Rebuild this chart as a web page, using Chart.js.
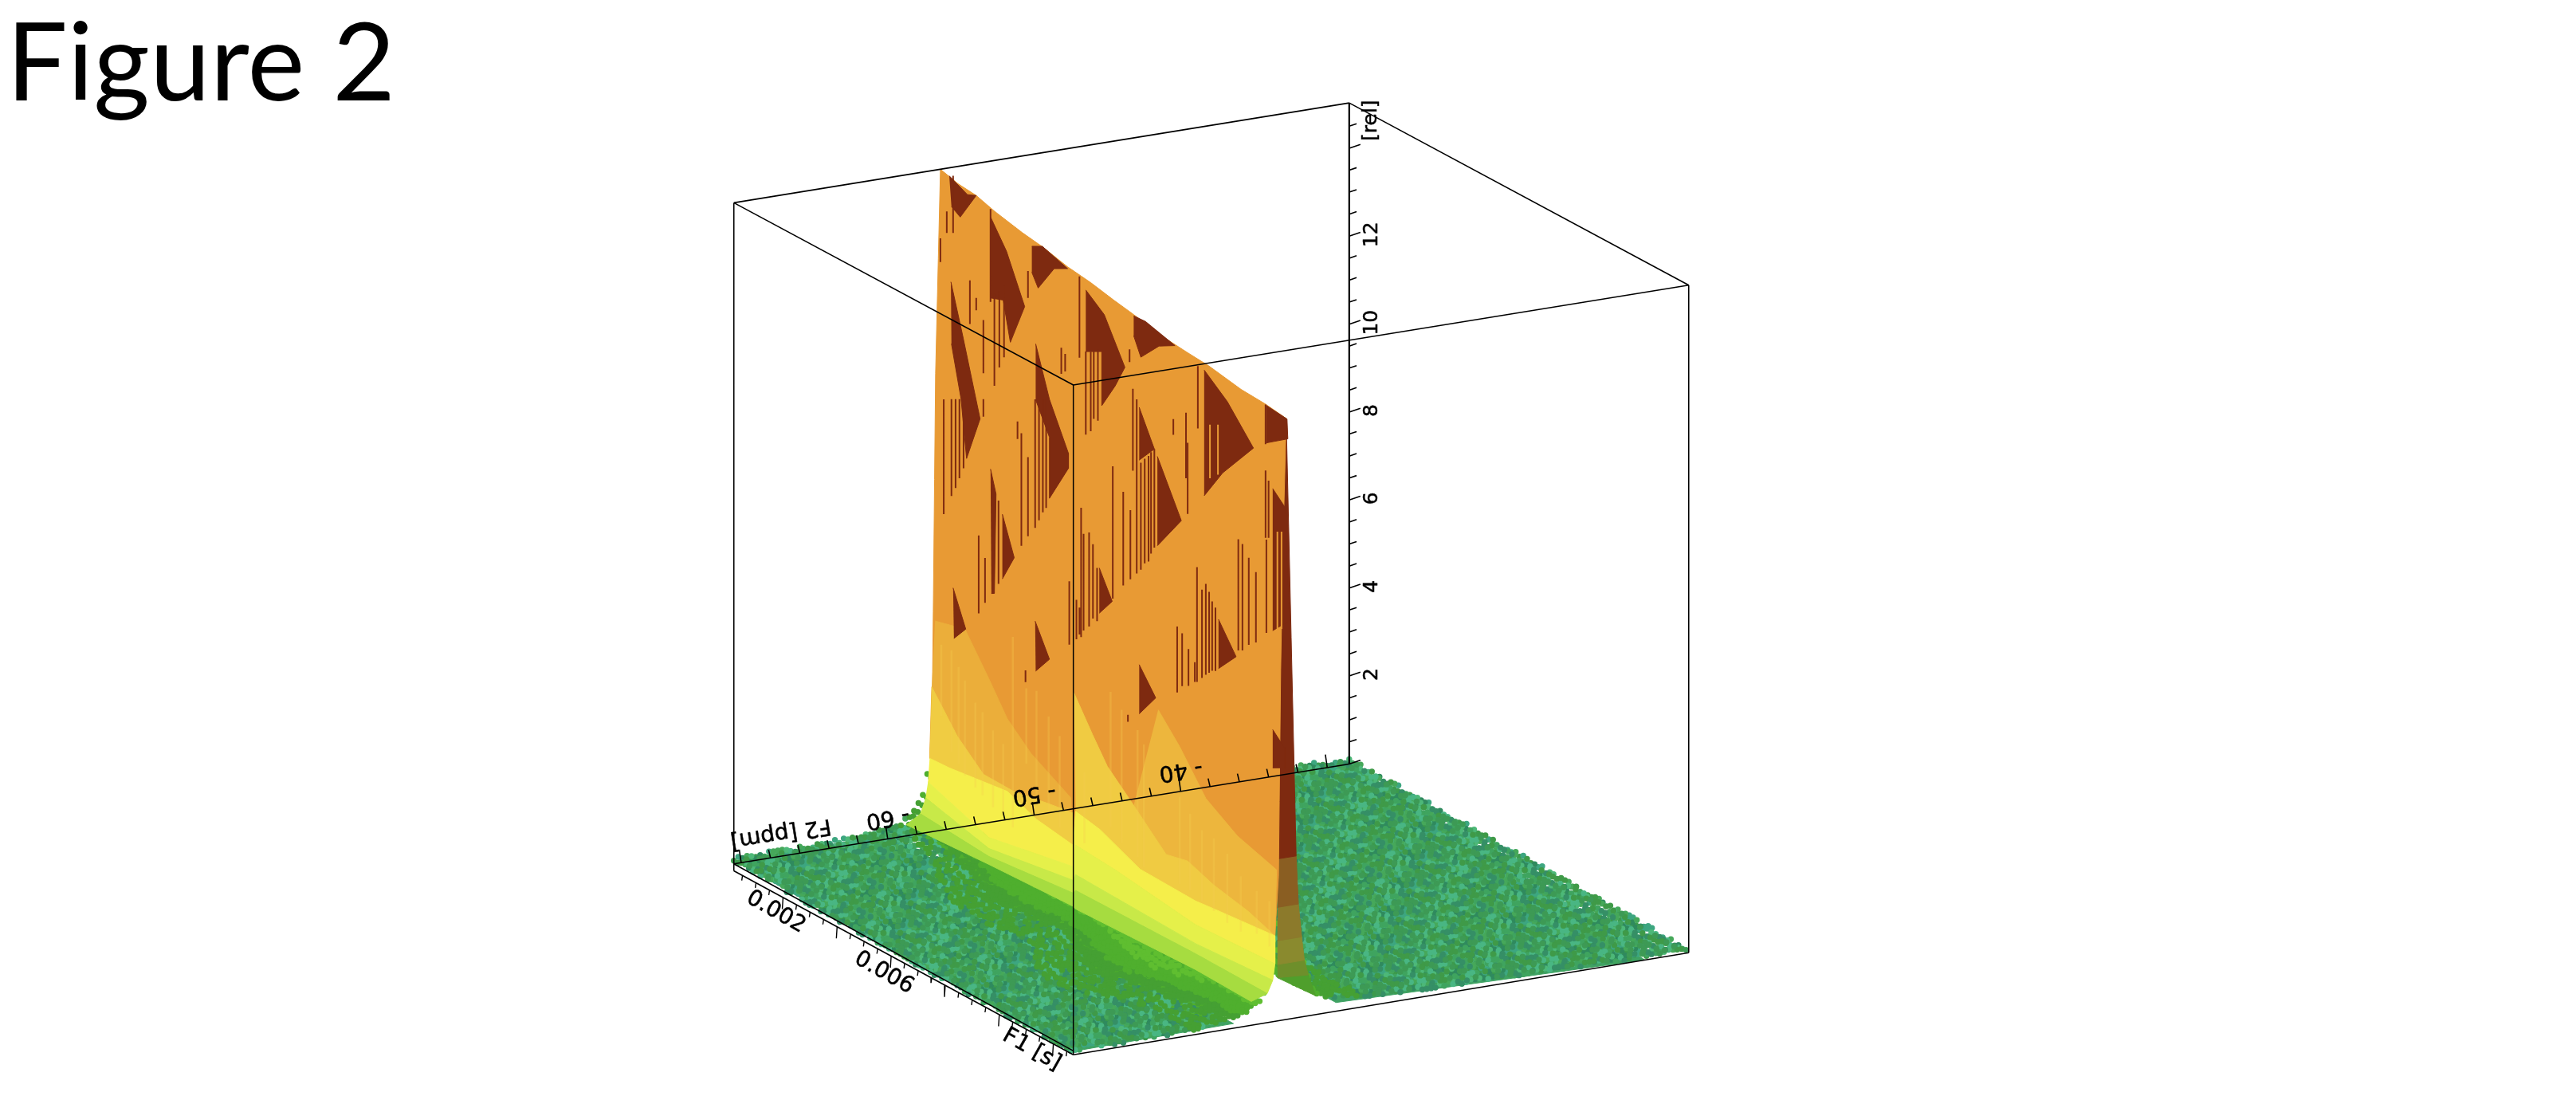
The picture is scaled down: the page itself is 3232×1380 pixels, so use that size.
<!DOCTYPE html>
<html lang="en">
<head>
<meta charset="utf-8" />
<title>Figure 2</title>
<script src="https://cdn.jsdelivr.net/npm/chart.js"></script>
<style>
    html, body { margin: 0; padding: 0; background: #fff; }
    #title { position: absolute; left: 8px; top: -14px; font: 136px Lato, sans-serif; color: #000; line-height: 1.3; }
    canvas { display: block; }
</style>
</head>
<body>
<canvas id="surfaceChart" width="3232" height="1380"></canvas>
<div id="title">Figure 2</div>
<script>
// axis ranges: F1 in ms, F2 in ppm, intensity in rel
const f1Range = [0.18, 12.74];
const f2Range = [70.5, 28.5];
const zTopBack = 15.03;
const zTopFront = 15.23;

const zLabels = [2, 4, 6, 8, 10, 12];
const f2Labels = [60, 50, 40];
const f1Labels = [2, 6];
const f2Major = [70, 60, 50, 40, 30];

// ridge of the peak, read along its top edge
const ridgeF1 = [0.18, 0.82, 1.48, 2.15, 3.16, 3.90, 4.80, 5.64, 6.47, 7.20, 8.29, 9.10, 9.94, 11.1, 12.0, 12.77];
const ridgeTop = [15.03, 14.92, 14.88, 14.75, 14.61, 14.54, 14.40, 14.33, 14.22, 14.14, 14.0, 13.95, 13.91, 13.78, 13.75, 13.68];
const ridgePeakF2 = [56.4, 55.97];

// peak line shape, fraction of ridge height vs ppm away from the peak
const leftRel = [0.001, 0.003, 0.013, 0.031, 0.057, 0.113, 0.213, 0.693, 1];
const leftOff = [14, 6.25, 2.72, 1.68, 1.03, 0.76, 0.54, 0.33, 0];
const rightRel = [0.001, 0.0066, 0.0095, 0.015, 0.028, 0.086, 0.15, 0.21, 0.37, 0.64, 1];
const rightOff = [27, 17.4, 9.5, 4.6, 2.07, 1.28, 0.98, 0.76, 0.54, 0.27, 0];

// where the floor turns green left of the peak
const greenF1 = [0.18, 1.8, 4.5, 6.8, 8.85, 10.0, 11.5];
const greenEdge = [1.7, 2.5, 4.5, 4.0, 6.0, 5.0, 3.9];

// contour lines on the face of the peak, [F1, rel]
const contourE = [[-0.22, 1.50], [0.50, 1.53], [2.61, 1.72], [3.67, 1.45], [5.0, 1.32], [5.09, 2.12], [5.98, 2.01], [7.43, 1.61], [9.45, 1.58], [10.11, 1.63], [12.33, 1.78]];
const contourF = [[-0.28, 0.94], [1.94, 0.44], [5.0, 0.83], [5.09, 1.35], [6.56, 1.28], [9.45, 1.04], [12.33, 1.14]];
const contourG = [[-0.37, 0.55], [1.94, 0.19], [5.0, 0.52], [5.09, 0.68], [9.45, 0.61], [12.25, 0.74]];
const contourH = [[-0.57, 0.12], [1.94, 0.01], [5.0, 0.23], [5.09, 0.32], [9.45, 0.38], [12.05, 0.37]];
const contourI = [[-1.09, -0.31], [1.94, -0.17], [5.0, -0.07], [5.09, -0.10], [9.45, 0.02], [11.47, -0.01]];
const contourFoot = [[11.0, -0.5], [9.0, -1.2], [5.0, -1.2], [1.5, -0.8]];
const contourA = [[-0.02, 4.69], [1.07, 4.88], [1.94, 4.05], [2.61, 3.37], [3.47, 2.88], [4.91, 2.37], [5.0, 1.32], [3.67, 1.45], [2.61, 1.72], [0.50, 1.53], [-0.22, 1.50], [-0.14, 3.15]];
const contourB = [[5.03, 4.79], [5.70, 4.08], [6.24, 3.54], [7.20, 2.98], [8.38, 2.27], [9.16, 2.39], [10.11, 2.17], [11.38, 2.0], [12.33, 1.78], [10.11, 1.63], [9.45, 1.58], [7.43, 1.61], [5.98, 2.01], [5.09, 2.12]];
const contourC = [[8.09, 5.46], [8.87, 4.89], [9.82, 4.04], [10.97, 3.58], [12.39, 3.30], [12.33, 1.78], [11.38, 2.0], [10.11, 2.17], [9.16, 2.39], [8.38, 2.27], [7.20, 2.98]];
const contourD = [[-0.14, 3.15], [0.79, 2.35], [1.74, 1.81], [2.90, 1.80], [4.05, 1.95], [5.0, 2.05], [5.0, 1.32], [3.67, 1.45], [2.61, 1.72], [0.50, 1.53], [-0.22, 1.50]];

// dark patches on the face of the peak, [F1, rel]
const darkPatches = [
    [[0.50, 14.99], [1.16, 14.79], [1.48, 14.88], [0.90, 14.19], [0.58, 14.32]],
    [[2.0, 14.57], [2.58, 13.99], [3.24, 12.96], [2.72, 11.97], [2.46, 12.84], [2.0, 12.73]],
    [[3.50, 14.42], [3.88, 14.55], [4.80, 14.36], [4.31, 14.19], [3.73, 13.55], [3.50, 13.83]],
    [[5.46, 14.10], [6.13, 13.77], [6.88, 12.83], [6.53, 12.29], [6.04, 11.67], [6.04, 12.90], [5.46, 12.70]],
    [[7.20, 14.11], [7.63, 14.13], [8.70, 13.95], [8.12, 13.74], [7.46, 13.26], [7.20, 13.66]],
    [[9.76, 13.76], [10.6, 13.33], [11.55, 12.60], [10.43, 11.65], [9.76, 10.90]],
    [[12.02, 13.73], [12.77, 13.68], [12.8, 13.24], [12.02, 12.88]],
    [[0.56, 12.60], [0.99, 11.52], [1.62, 9.85], [1.13, 8.78], [0.93, 10.06], [0.58, 11.20]],
    [[3.64, 12.25], [4.14, 11.16], [4.83, 10.17], [4.83, 9.83], [4.14, 8.91], [4.14, 10.3], [3.64, 10.98]],
    [[7.40, 12.10], [7.95, 11.34], [7.40, 10.9]],
    [[8.06, 11.21], [8.93, 10.05], [8.06, 9.18]],
    [[2.0, 8.84], [2.2, 8.34], [2.14, 6.06], [2.03, 6.02]],
    [[2.43, 7.96], [2.86, 7.12], [2.43, 6.49]],
    [[5.95, 7.95], [6.42, 7.35], [5.95, 6.92]],
    [[12.25, 11.92], [12.71, 11.64], [12.85, 9.12], [12.25, 8.69]],
    [[10.28, 8.27], [10.92, 7.64], [10.28, 7.15]],
    [[0.64, 5.67], [1.10, 4.89], [0.67, 4.53]],
    [[3.62, 5.94], [4.14, 5.25], [3.64, 4.81]],
    [[7.40, 6.25], [8.0, 5.70], [7.40, 5.13]],
    [[12.25, 6.44], [12.68, 6.17], [12.68, 5.72], [12.25, 5.57]]
];

// thin vertical streaks, [F1, rel top, rel bottom]
const darkStreaks = [
    [0.30, 9.84, 7.23], [0.58, 9.94, 7.74], [0.73, 9.99, 7.97], [0.87, 10.04, 8.24], [1.02, 10.09, 8.52], [1.74, 10.34, 9.94],
    [2.98, 10.26, 9.86], [3.12, 10.04, 7.48], [3.36, 9.58, 7.78], [3.62, 10.98, 8.06], [3.76, 10.91, 8.28], [3.90, 11.08, 8.51], [4.02, 11.12, 8.65],
    [1.57, 7.18, 5.41], [1.80, 6.75, 5.73], [2.29, 8.22, 6.33], [4.86, 7.27, 5.83], [5.12, 6.94, 6.04], [5.23, 6.80, 6.19], [5.29, 9.09, 6.15], [5.38, 8.53, 6.33], [5.58, 8.63, 6.49], [5.72, 8.41, 6.72], [5.87, 7.92, 6.71],
    [5.46, 12.70, 10.81], [5.75, 12.80, 11.27], [6.44, 10.43, 7.42], [6.82, 9.98, 7.85], [7.08, 9.65, 8.08], [7.31, 12.25, 8.29], [7.17, 12.44, 10.58], [7.46, 10.86, 8.43], [7.60, 11.0, 8.62], [7.74, 11.11, 8.71], [7.83, 11.23, 8.92], [7.95, 11.34, 9.1],
    [8.64, 12.26, 11.90], [9.16, 11.90, 10.28], [9.53, 13.77, 12.35], [9.10, 12.56, 11.07],
    [11.0, 10.34, 7.81], [11.15, 10.28, 7.86], [11.38, 10.05, 8.07], [11.64, 9.81, 8.21], [8.78, 7.59, 6.09], [8.96, 7.50, 6.30], [9.19, 7.22, 6.38], [9.42, 7.0, 6.55],
    [9.50, 9.19, 6.58], [9.68, 8.74, 6.73], [9.82, 8.92, 6.85], [9.94, 8.78, 6.94], [10.05, 8.60, 7.02], [10.17, 8.50, 7.06],
    [11.99, 13.74, 12.84], [11.99, 12.24, 10.71], [12.02, 10.68, 8.56], [12.10, 12.05, 10.75],
    [0.18, 13.46, 12.92], [0.41, 14.15, 13.66], [0.64, 15.04, 13.74], [1.25, 12.87, 11.88], [1.48, 12.55, 12.27], [1.74, 12.14, 10.93], [2.0, 14.75, 12.64],
    [2.14, 12.87, 10.78], [2.32, 13.0, 11.26], [2.49, 13.17, 11.55], [3.36, 13.81, 13.20], [4.57, 12.48, 11.89], [4.71, 12.39, 11.99], [5.23, 14.33, 12.48],
    [5.64, 12.76, 10.95], [5.90, 12.90, 11.28], [7.05, 13.30, 13.01], [3.27, 4.70, 4.43], [6.99, 4.97, 4.81]
];
const orangeStreaks = [[9.97, 12.59, 11.37], [10.26, 12.69, 11.55], [12.42, 11.0, 8.79], [12.57, 11.05, 8.84]];
const paleStreaks = [
    [0.21, 4.23, 2.61], [0.58, 4.23, 1.92], [0.84, 3.94, 1.74], [1.07, 3.71, 1.55], [1.45, 3.34, 1.41], [1.71, 3.21, 1.32], [2.09, 2.93, 1.18], [2.46, 2.75, 1.12],
    [2.81, 5.3, 0.97], [3.30, 4.30, 2.59], [3.67, 4.37, 1.81], [4.11, 3.94, 1.78], [4.51, 3.63, 1.56], [5.41, 3.12, 1.50], [6.36, 5.27, 2.21], [6.76, 5.0, 1.98],
    [7.34, 4.74, 1.86], [7.57, 4.49, 1.71], [8.87, 3.75, 1.77], [9.25, 3.50, 1.75], [9.68, 3.27, 1.65], [10.11, 3.23, 1.58], [10.6, 3.05, 1.48], [11.09, 2.71, 1.45], [11.67, 2.57, 1.60], [12.13, 2.50, 1.47]
];

// shaded far side of the peak, seen at the end of the F1 range
const flankLevels = [0.45, 0.95, 1.3, 1.84, 2.6, 3.7];
const flankColors = ['#4F9F2C', '#6E8F2B', '#8A8A2E', '#8C7A2B', '#8A5E22', '#7E2A10'];

// hand read mottling of the noise floor
const floorNoise = [
    '31840725963158402796314',
    '72590314862079514380627',
    '04683951720486239175048',
    '95172046381927504638219',
    '28406173950364817290563',
    '63914850272915036484170',
    '17052893640782916053428',
    '80365127498130674925316',
    '49271806353698210547892',
    '36508942170245983716054',
    '91743068529607134829261',
    '05829617348172560394785',
    '74136290585936417028143'
];
const tealTones = ['#358F66', '#3FA45F', '#49B683', '#3C9A4C', '#3D9A55', '#2F8A5E', '#4DB878', '#3F9A48', '#46A85A', '#3DA680'];
const greenTones = ['#7ACB38', '#5FBE30', '#4FAF2E', '#45A033'];

const C_ORANGE = '#E89A34';
const C_DARK = '#7E2A10';

function interp(xs, ys, v) {
    if (v <= xs[0]) return ys[0];
    for (let i = 1; i < xs.length; i++) {
        if (v <= xs[i]) return ys[i - 1] + (ys[i] - ys[i - 1]) * (v - xs[i - 1]) / (xs[i] - xs[i - 1]);
    }
    return ys[ys.length - 1];
}

// fixed view of the box, pixels per full axis
function project(f1, f2, z) {
    const a = (f1 - f1Range[0]) / (f1Range[1] - f1Range[0]);
    const b = (f2Range[0] - f2) / (f2Range[0] - f2Range[1]);
    return { x: 919 + 427 * a + 774 * b, y: 1086 + 241 * a - 126 * b - 55.5 * z };
}
const peakF2 = f1 => interp([ridgeF1[0], ridgeF1[ridgeF1.length - 1]], ridgePeakF2, f1);
const ridgeHeight = f1 => interp(ridgeF1, ridgeTop, f1);
const onFace = ([f1, z]) => project(f1, peakF2(f1), z);

const leftOffAsc = leftOff.slice().reverse(), leftRelAsc = leftRel.slice().reverse();
const rightOffAsc = rightOff.slice().reverse(), rightRelAsc = rightRel.slice().reverse();

function surfaceZ(f1, f2) {
    const d = f2 - peakF2(f1);
    const rel = d >= 0 ? interp(leftOffAsc, leftRelAsc, d) : interp(rightOffAsc, rightRelAsc, -d);
    return rel * ridgeHeight(f1);
}

const datasets = [];
function polygon(points, color) {
    datasets.push({ data: points, showLine: true, fill: 'shape', backgroundColor: color, borderColor: color, borderWidth: 1, pointRadius: 0, tension: 0 });
}
function lines(segments, color, width) {
    const data = [];
    segments.forEach(s => { data.push(...s, { x: NaN, y: NaN }); });
    datasets.push({ data: data, showLine: true, fill: false, borderColor: color, borderWidth: width, pointRadius: 0, tension: 0, spanGaps: false });
}

// floor
const [f1a, f1b] = f1Range, [f2a, f2b] = f2Range;
const pkA = peakF2(f1a), pkB = peakF2(f1b);
polygon([project(f1a, f2a, 0.08), project(f1b, f2a, 0.08), project(f1b, pkB + 3.6, 0.12), project(f1a, pkA + 3.6, 0.1)], '#3FA263');
polygon([project(f1a, pkA - 3.4, 0.2), project(f1b, pkB - 3.4, 0.22), project(f1b, f2b + 3, 0.05), project(f1a, f2b, 0.05)], '#3FA263');
polygon([...contourI, ...contourFoot].map(onFace), '#4FAF2E');

const buckets = {};
const nRows = floorNoise.length, nCols = floorNoise[0].length;
let col = 0;
for (let f1 = f1a; f1 <= f1b + 0.01; f1 += 0.14, col++) {
    let row = 0;
    for (let f2 = f2a; f2 >= f2b; f2 -= 0.3, row++) {
        const n = +floorNoise[(row + col * 5) % nRows][(col + row * 3) % nCols];
        const d = f2 - peakF2(f1);
        const z = surfaceZ(f1, f2);
        if (z > 2) continue;
        const r = d >= 0 ? d / interp(greenF1, greenEdge, f1) : -d / 3.2;
        let color;
        if (r < 1) color = greenTones[Math.min(3, Math.floor(r * 4))];
        else if (r < 1.6 && n % 2) color = greenTones[3];
        else color = tealTones[n];
        (buckets[color] = buckets[color] || []).push(project(f1, f2, z + 0.02 + n * 0.012));
    }
}
Object.keys(buckets).forEach(c => {
    datasets.push({ data: buckets[c], showLine: false, pointRadius: 3.7, pointBackgroundColor: c, pointBorderWidth: 0 });
});

// far side at the end of the ridge
const endTop = ridgeHeight(f1b);
flankLevels.forEach((lo, i) => {
    const hi = i + 1 < flankLevels.length ? flankLevels[i + 1] : endTop;
    polygon([
        project(f1b, pkB + 0.6, Math.max(lo, 1.0)),
        project(f1b, pkB - interp(rightRel, rightOff, lo / endTop), lo),
        project(f1b, pkB - interp(rightRel, rightOff, hi / endTop), hi),
        project(f1b, pkB + 0.6, Math.max(hi, 1.0))
    ], flankColors[i]);
});

// face of the peak
const silhouetteLeft = [3.15, 5, 8, 10.4, 13, ridgeHeight(f1a)].map(z => project(f1a, pkA + interp(leftRel, leftOff, z / ridgeHeight(f1a)), z));
const silhouetteRight = [endTop, 11, 8, 5, 3.3].map(z => project(f1b, pkB + interp(leftRel, leftOff, z / endTop), z));
polygon([
    ...silhouetteLeft,
    ...ridgeF1.map((f, i) => project(f, peakF2(f), ridgeTop[i])),
    ...silhouetteRight,
    ...contourE.slice().reverse().map(onFace)
], C_ORANGE);
polygon(contourA.map(onFace), '#EBAE3A');
polygon(contourC.map(onFace), '#EDB63D');
polygon(contourB.map(onFace), '#F0CB42');
polygon(contourD.map(onFace), '#F0CC42');
polygon([...contourE, ...contourF.slice().reverse()].map(onFace), '#F5EE4A');
polygon([...contourF, ...contourG.slice().reverse()].map(onFace), '#E5F04A');
polygon([...contourG, ...contourH.slice().reverse()].map(onFace), '#C8E948');
polygon([...contourH, ...contourI.slice().reverse()].map(onFace), '#A6DC40');

const streak = ([f, t, b]) => [onFace([f, t]), onFace([f, b])];
lines(paleStreaks.map(streak), 'rgba(244,205,80,0.3)', 2.5);
darkPatches.forEach(p => polygon(p.map(onFace), C_DARK));
lines(darkStreaks.map(streak), C_DARK, 2);
lines(orangeStreaks.map(streak), C_ORANGE, 2);

// box
const A = project(f1a, f2a, zTopBack), B = project(f1a, f2b, zTopBack), C = project(f1b, f2a, zTopFront), D = project(f1b, f2b, zTopFront);
const A0 = project(f1a, f2a, 0), B0 = project(f1a, f2b, 0), C0 = project(f1b, f2a, 0), D0 = project(f1b, f2b, 0.05);
const A1 = project(f1a, f2a, -0.16), C1 = project(f1b, f2a, 0.09);
lines([[A, B], [A, C], [B, D], [C, D], [A, A1], [D, D0], [A0, B0], [C0, D0], [A1, C0], [A0, C1]], '#000', 1.6);
lines([[C, C0]], '#000', 1.5);
lines([[B, B0]], '#000', 2.2);

// ticks
const zTickSegs = [], f2TickSegs = [], f1TickSegs = [];
for (let z = 0; z <= 14.5; z += 0.5) {
    const major = z % 2 === 0;
    zTickSegs.push([project(f1a, f2b, z), project(f1a, f2b - (major ? 0.76 : 0.5), z + (major ? 0.045 : 0.03))]);
}
for (let f2 = 70; f2 >= 30; f2 -= 2) {
    const long = f2Major.includes(f2);
    f2TickSegs.push([project(f1a, f2, 0), project(f1a - 0.07, f2, long ? 0.27 : 0.16)]);
}
for (let f1 = 0.5; f1 <= 12.5; f1 += 0.5) {
    const long = f1 % 2 === 0;
    const base = -0.16 * (1 - (f1 - f1a) / (f1b - f1a));
    f1TickSegs.push([project(f1, f2a, base), project(f1, f2a + 0.05, base - (long ? 0.26 : 0.11))]);
}
lines(zTickSegs, '#000', 1.6);
lines(f2TickSegs, '#000', 1.6);
lines(f1TickSegs, '#000', 1.4);

// Chart.js paints the first dataset last
datasets.reverse();

const f2Angle = Math.atan2(-126, 774) + Math.PI;
const f1Angle = Math.atan2(241, 427);

const axisText = {
    id: 'axisText',
    afterDraw(chart) {
        const { ctx, scales } = chart;
        const put = (text, p, dx, dy, angle, size) => {
            ctx.save();
            ctx.translate(scales.x.getPixelForValue(p.x) + dx, scales.y.getPixelForValue(p.y) + dy);
            ctx.rotate(angle);
            ctx.font = size + 'px "DejaVu Sans"';
            ctx.fillStyle = '#000';
            ctx.strokeStyle = '#000';
            ctx.lineWidth = 0.5;
            ctx.textAlign = 'center';
            ctx.textBaseline = 'middle';
            ctx.fillText(text, 0, 0);
            ctx.strokeText(text, 0, 0);
            ctx.restore();
        };
        zLabels.forEach(z => put(String(z), project(f1a, f2b, z), 29, -2, -Math.PI / 2, 25));
        put('[rel]', project(f1a, f2b, 14.63), 28, 0, -Math.PI / 2, 25);
        f2Labels.forEach(v => put('- ' + v, project(f1a, v, 0), 0, -27, f2Angle, 28));
        put('F2 [ppm]', project(f1a, 67.3, 0), 0, -29, f2Angle, 28);
        f1Labels.forEach(v => put((v / 1000).toFixed(3), project(v, f2a, 0), -9, 26, f1Angle, 28));
        put('F1 [s]', project(11.2, f2a, 0), 0, 23, f1Angle, 28);
    }
};

new Chart(document.getElementById('surfaceChart'), {
    type: 'scatter',
    data: { datasets: datasets },
    plugins: [axisText],
    options: {
        responsive: false,
        animation: false,
        events: [],
        layout: { padding: 0 },
        scales: {
            x: { type: 'linear', display: false, min: 0, max: 3232 },
            y: { type: 'linear', display: false, min: 0, max: 1380, reverse: true }
        },
        plugins: { legend: { display: false }, tooltip: { enabled: false }, title: { display: false } }
    }
});
</script>
</body>
</html>
